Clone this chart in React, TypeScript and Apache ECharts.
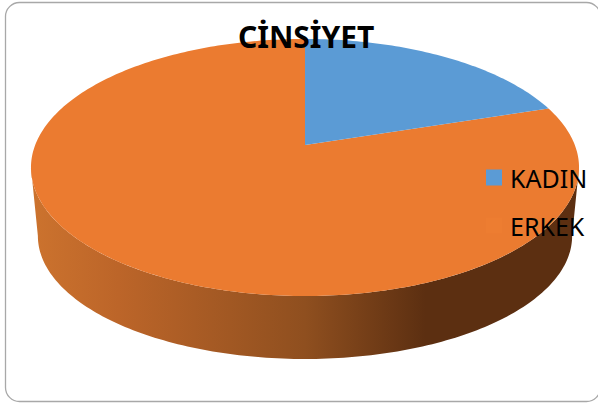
import React, { useEffect, useRef } from "react";
import * as echarts from "echarts";

const titleText = "CİNSİYET";
const categories = ["KADIN", "ERKEK"];
const shares = [20, 80];
const topColors = ["#5B9BD5", "#EB7B30"];
const legendColors = ["#5B9BD5", "#ED7D31"];

const TOP = { apexY: 145, rx: 269.8, ry: 124.6, p: 0.175 };
const BOTTOM = { apexY: 214.5, rx: 263, ry: 119.2, p: 0.175 };
const CX = 305;

type Level = typeof TOP;

function project(level: Level, angle: number): number[] {
  const u = Math.sin(angle);
  const v = Math.cos(angle);
  const w = 1 + level.p * v;
  return [CX + (level.rx * u) / w, level.apexY - (level.ry * v) / w];
}

function arc(level: Level, from: number, to: number): number[][] {
  const steps = Math.max(2, Math.ceil(((to - from) / (Math.PI * 2)) * 360));
  const points: number[][] = [];
  for (let i = 0; i <= steps; i++) {
    points.push(project(level, from + ((to - from) * i) / steps));
  }
  return points;
}

const total = shares.reduce((a, b) => a + b, 0);

function sliceRange(index: number): number[] {
  let before = 0;
  for (let i = 0; i < index; i++) before += shares[i];
  return [
    (before / total) * Math.PI * 2,
    ((before + shares[index]) / total) * Math.PI * 2,
  ];
}

const FRONT_FROM = Math.acos(-TOP.p);
const FRONT_TO = Math.PI * 2 - FRONT_FROM;

function renderSlice(index: number) {
  return () => {
    const [start, end] = sliceRange(index);
    const children: any[] = [];
    const wallFrom = Math.max(start, FRONT_FROM);
    const wallTo = Math.min(end, FRONT_TO);
    if (wallTo > wallFrom) {
      children.push({
        type: "polygon",
        shape: {
          points: [
            ...arc(TOP, wallFrom, wallTo),
            ...arc(BOTTOM, wallFrom, wallTo).reverse(),
          ],
        },
        style: {
          fill: new echarts.graphic.LinearGradient(0, 0, 1, 0, [
            { offset: 0, color: "#CC732E" },
            { offset: 0.16, color: "#BC6529" },
            { offset: 0.5, color: "#8F4F1F" },
            { offset: 0.72, color: "#5C2F11" },
            { offset: 1, color: "#5C2F11" },
          ]),
        },
      });
    }
    children.push({
      type: "polygon",
      shape: { points: [[CX, TOP.apexY], ...arc(TOP, start, end)] },
      style: { fill: topColors[index] },
    });
    return { type: "group", children };
  };
}

export default function App() {
  const ref = useRef<HTMLDivElement>(null);
  useEffect(() => {
    document.body.style.margin = "0";
    const chart = echarts.init(ref.current!, undefined, { renderer: "svg" });
    chart.setOption({
      animation: false,
      backgroundColor: "#ffffff",
      title: {
        text: titleText,
        left: 233,
        top: 16,
        textStyle: {
          fontFamily: "Noto Sans",
          fontWeight: "bold",
          fontSize: 30,
          color: "#000000",
        },
      },
      legend: {
        orient: "vertical",
        left: 486,
        top: 165,
        itemWidth: 16,
        itemHeight: 16,
        itemGap: 23,
        padding: 0,
        selectedMode: false,
        textStyle: {
          fontFamily: "Noto Sans",
          fontSize: 25,
          color: "#000000",
          padding: [0, 0, 0, 3],
        },
        data: categories.map((name, i) => ({
          name,
          icon: "rect",
          itemStyle: { color: legendColors[i] },
        })),
      },
      graphic: [
        {
          type: "rect",
          silent: true,
          z: -1,
          shape: { x: 5.5, y: 2.5, width: 595, height: 399, r: 14 },
          style: { fill: "#ffffff", stroke: "#A8A8A8", lineWidth: 1.3 },
        },
      ],
      series: categories.map((name, i) => ({
        type: "custom",
        name,
        coordinateSystem: "none",
        silent: true,
        z: i === 1 ? 2 : 3,
        itemStyle: { color: topColors[i] },
        data: [shares[i]],
        renderItem: renderSlice(i),
      })),
    });
    return () => chart.dispose();
  }, []);
  return (
    <div
      ref={ref}
      style={{ position: "fixed", left: 0, top: 0, width: 598, height: 405 }}
    />
  );
}
